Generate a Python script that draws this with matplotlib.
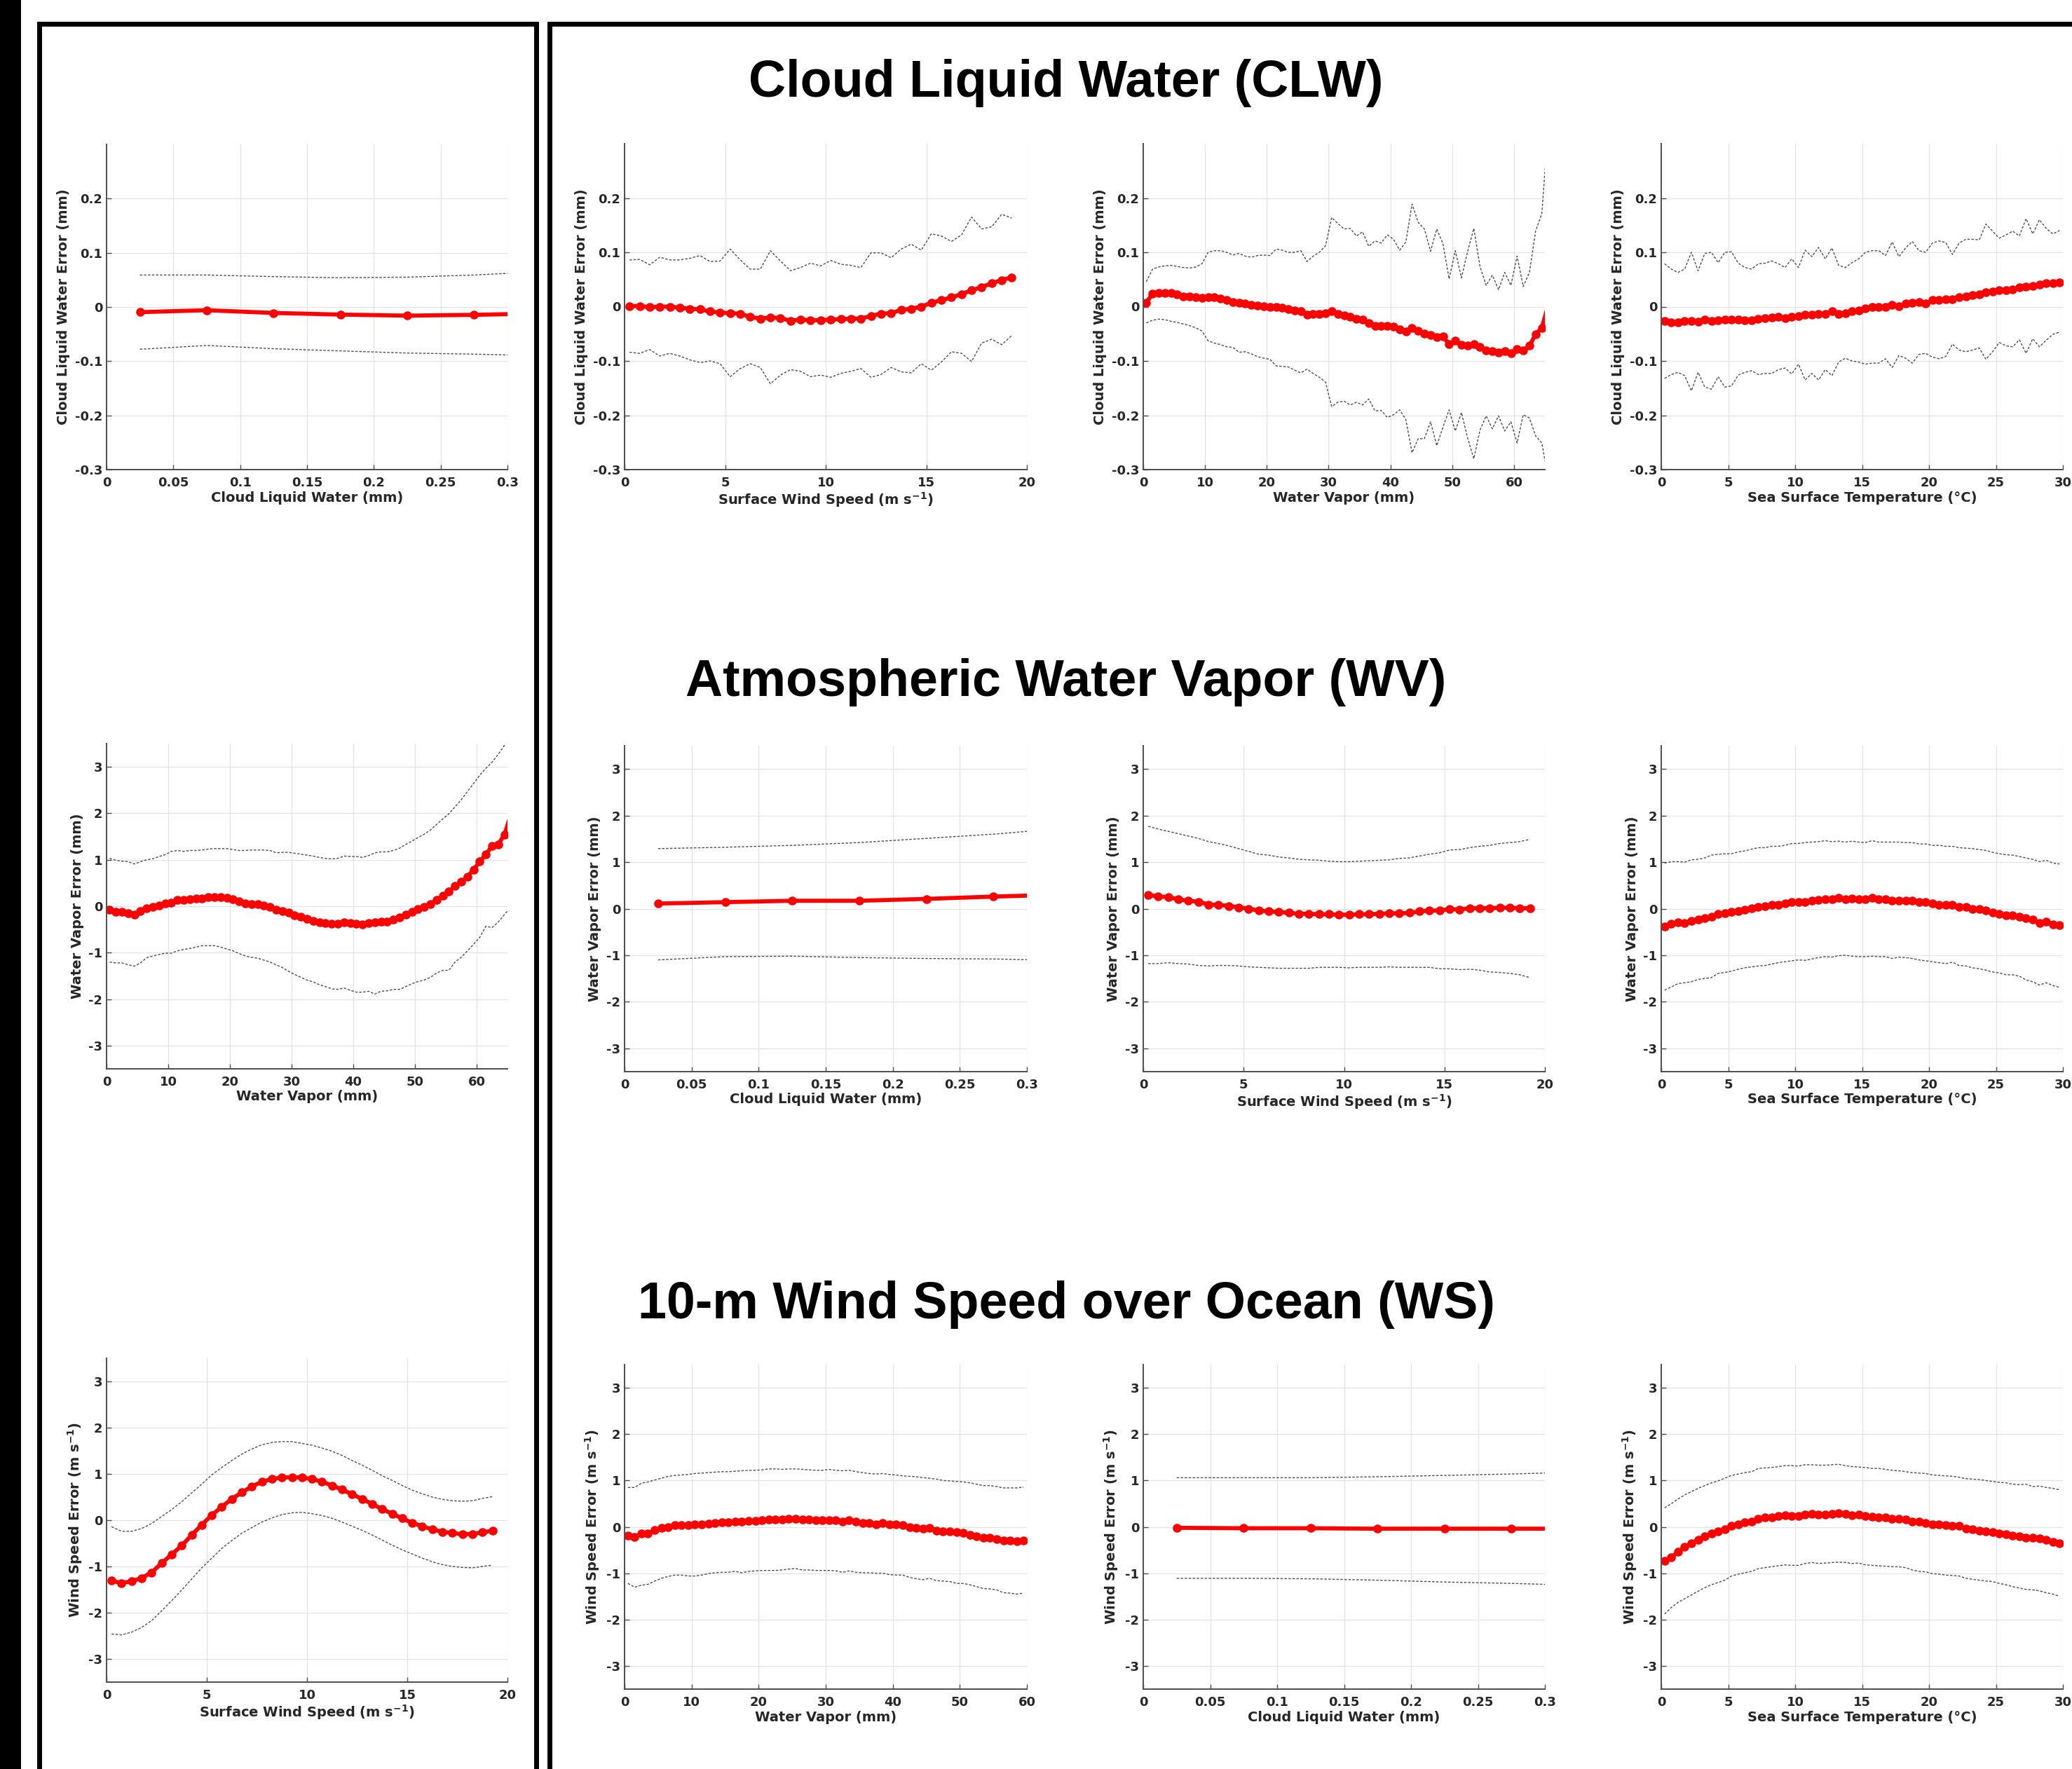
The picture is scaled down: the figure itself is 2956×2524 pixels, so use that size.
import numpy as np
import matplotlib
matplotlib.use('Agg')
import matplotlib.pyplot as plt
from matplotlib.patches import Rectangle
from matplotlib.ticker import FuncFormatter

# ---- bin centres -------------------------------------------------------
clw_bins = [0.025, 0.075, 0.125, 0.175, 0.225, 0.275, 0.325]
sws_bins = np.arange(0.25, 19.3, 0.5)      # 39 bins, 0.5 m/s
wv_bins = np.arange(0.5, 66.0, 1.0)        # 66 bins, 1 mm
wv_bins_60 = np.arange(0.5, 60.0, 1.0)     # 60 bins, 1 mm
sst_bins = np.arange(0.25, 30.0, 0.5)      # 60 bins, 0.5 C

# ---- CLW error ---------------------------------------------------------
clw_clw_mean = [-0.0095, -0.006, -0.011, -0.014, -0.016, -0.0145, -0.012]
clw_clw_up = [0.059, 0.059, 0.056, 0.054, 0.055, 0.059, 0.065]
clw_clw_lo = [-0.078, -0.071, -0.077, -0.081, -0.085, -0.087, -0.090]

clw_sws_mean = [0.001, 0.001, -0.001, 0.000, 0.000, -0.002, -0.004, -0.005, -0.009, -0.011,
                -0.012, -0.013, -0.019, -0.022, -0.020, -0.021, -0.026, -0.024, -0.025, -0.025,
                -0.024, -0.023, -0.022, -0.022, -0.017, -0.013, -0.012, -0.006, -0.004, 0.000,
                0.007, 0.012, 0.017, 0.023, 0.030, 0.036, 0.043, 0.049, 0.054]
clw_sws_up = [0.086, 0.087, 0.077, 0.091, 0.086, 0.086, 0.089, 0.094, 0.083, 0.084,
              0.106, 0.086, 0.069, 0.069, 0.103, 0.084, 0.066, 0.072, 0.080, 0.075,
              0.085, 0.078, 0.076, 0.072, 0.099, 0.099, 0.090, 0.106, 0.115, 0.104,
              0.134, 0.130, 0.120, 0.132, 0.165, 0.143, 0.147, 0.170, 0.163]
clw_sws_lo = [-0.084, -0.086, -0.079, -0.091, -0.086, -0.091, -0.098, -0.103, -0.100, -0.105,
              -0.129, -0.114, -0.105, -0.112, -0.142, -0.126, -0.116, -0.119, -0.129, -0.126,
              -0.130, -0.123, -0.119, -0.114, -0.130, -0.125, -0.112, -0.120, -0.122, -0.105,
              -0.117, -0.102, -0.083, -0.086, -0.101, -0.067, -0.060, -0.070, -0.053]

clw_wv_mean = [0.007, 0.024, 0.025, 0.025, 0.025, 0.022, 0.019, 0.019, 0.017, 0.016,
               0.018, 0.017, 0.015, 0.012, 0.009, 0.007, 0.006, 0.003, 0.002, 0.001,
               0.000, 0.000, -0.002, -0.004, -0.007, -0.009, -0.015, -0.014, -0.013, -0.012,
               -0.009, -0.013, -0.016, -0.019, -0.022, -0.024, -0.030, -0.035, -0.036, -0.035,
               -0.037, -0.042, -0.046, -0.039, -0.044, -0.050, -0.052, -0.056, -0.055, -0.069,
               -0.063, -0.070, -0.072, -0.069, -0.074, -0.081, -0.082, -0.085, -0.082, -0.086,
               -0.078, -0.081, -0.072, -0.051, -0.039, 0.001]
clw_wv_up = [0.046, 0.069, 0.073, 0.075, 0.076, 0.074, 0.072, 0.071, 0.073, 0.079,
             0.100, 0.103, 0.103, 0.100, 0.095, 0.098, 0.093, 0.091, 0.094, 0.095,
             0.094, 0.106, 0.104, 0.100, 0.100, 0.103, 0.083, 0.093, 0.100, 0.112,
             0.164, 0.153, 0.143, 0.144, 0.130, 0.138, 0.111, 0.121, 0.117, 0.132,
             0.124, 0.104, 0.119, 0.189, 0.155, 0.143, 0.102, 0.143, 0.116, 0.051,
             0.103, 0.053, 0.102, 0.144, 0.074, 0.039, 0.058, 0.031, 0.063, 0.039,
             0.093, 0.037, 0.063, 0.139, 0.171, 0.325]
clw_wv_lo = [-0.030, -0.025, -0.023, -0.024, -0.027, -0.029, -0.032, -0.035, -0.039, -0.045,
             -0.063, -0.067, -0.070, -0.074, -0.075, -0.084, -0.083, -0.087, -0.092, -0.095,
             -0.097, -0.109, -0.110, -0.111, -0.117, -0.122, -0.115, -0.123, -0.130, -0.139,
             -0.184, -0.176, -0.174, -0.181, -0.176, -0.181, -0.170, -0.192, -0.191, -0.204,
             -0.199, -0.190, -0.208, -0.269, -0.243, -0.243, -0.212, -0.256, -0.222, -0.190,
             -0.229, -0.195, -0.242, -0.280, -0.227, -0.201, -0.225, -0.201, -0.229, -0.212,
             -0.251, -0.199, -0.205, -0.238, -0.251, -0.313]

clw_sst_mean = [-0.027, -0.029, -0.029, -0.027, -0.026, -0.028, -0.024, -0.026, -0.025, -0.024,
                -0.024, -0.024, -0.025, -0.025, -0.023, -0.021, -0.020, -0.019, -0.021, -0.019,
                -0.018, -0.015, -0.015, -0.013, -0.013, -0.009, -0.013, -0.012, -0.009, -0.007,
                -0.003, -0.001, -0.001, 0.000, 0.003, 0.001, 0.006, 0.007, 0.008, 0.006,
                0.012, 0.012, 0.014, 0.014, 0.018, 0.019, 0.021, 0.023, 0.027, 0.028,
                0.030, 0.030, 0.032, 0.035, 0.037, 0.038, 0.041, 0.043, 0.043, 0.045]
clw_sst_up = [0.079, 0.069, 0.063, 0.069, 0.100, 0.066, 0.098, 0.100, 0.081, 0.100,
              0.101, 0.080, 0.072, 0.069, 0.079, 0.080, 0.084, 0.079, 0.072, 0.088,
              0.072, 0.104, 0.092, 0.109, 0.088, 0.108, 0.076, 0.072, 0.081, 0.088,
              0.100, 0.103, 0.103, 0.094, 0.119, 0.092, 0.108, 0.120, 0.103, 0.100,
              0.117, 0.121, 0.118, 0.096, 0.117, 0.124, 0.124, 0.123, 0.152, 0.139,
              0.126, 0.132, 0.139, 0.130, 0.162, 0.134, 0.160, 0.144, 0.134, 0.140]
clw_sst_lo = [-0.132, -0.125, -0.121, -0.127, -0.155, -0.121, -0.148, -0.152, -0.129, -0.148,
              -0.146, -0.126, -0.121, -0.118, -0.125, -0.123, -0.123, -0.116, -0.113, -0.124,
              -0.106, -0.135, -0.123, -0.135, -0.116, -0.127, -0.102, -0.095, -0.100, -0.102,
              -0.106, -0.104, -0.104, -0.096, -0.112, -0.090, -0.095, -0.104, -0.088, -0.086,
              -0.093, -0.096, -0.092, -0.069, -0.080, -0.083, -0.080, -0.076, -0.097, -0.083,
              -0.066, -0.072, -0.074, -0.061, -0.086, -0.059, -0.074, -0.062, -0.051, -0.047]

# ---- WV error ----------------------------------------------------------
wv_wv_mean = [-0.08, -0.12, -0.12, -0.15, -0.18, -0.11, -0.04, -0.02, 0.01, 0.06,
              0.08, 0.13, 0.13, 0.15, 0.16, 0.17, 0.19, 0.20, 0.19, 0.18,
              0.15, 0.10, 0.06, 0.05, 0.04, 0.01, -0.02, -0.07, -0.11, -0.14,
              -0.20, -0.22, -0.27, -0.31, -0.34, -0.36, -0.37, -0.38, -0.34, -0.36,
              -0.38, -0.39, -0.36, -0.34, -0.33, -0.33, -0.28, -0.24, -0.18, -0.12,
              -0.06, -0.02, 0.04, 0.14, 0.22, 0.31, 0.44, 0.53, 0.63, 0.79,
              0.96, 1.11, 1.30, 1.33, 1.54, 1.95]
wv_wv_up = [1.03, 0.99, 0.97, 0.96, 0.91, 0.96, 1.00, 1.02, 1.07, 1.11,
            1.18, 1.20, 1.18, 1.20, 1.20, 1.21, 1.23, 1.24, 1.24, 1.24,
            1.22, 1.20, 1.20, 1.21, 1.21, 1.21, 1.20, 1.15, 1.16, 1.16,
            1.14, 1.12, 1.10, 1.08, 1.05, 1.03, 1.02, 1.03, 1.08, 1.07,
            1.07, 1.05, 1.09, 1.15, 1.17, 1.17, 1.20, 1.25, 1.33, 1.40,
            1.48, 1.55, 1.64, 1.76, 1.88, 1.99, 2.14, 2.29, 2.47, 2.64,
            2.82, 2.97, 3.10, 3.27, 3.46, 3.70]
wv_wv_lo = [-1.20, -1.22, -1.22, -1.26, -1.29, -1.22, -1.11, -1.07, -1.04, -1.01,
            -1.01, -0.96, -0.93, -0.91, -0.88, -0.85, -0.85, -0.85, -0.88, -0.92,
            -0.96, -1.02, -1.07, -1.10, -1.12, -1.16, -1.20, -1.26, -1.32, -1.40,
            -1.47, -1.53, -1.59, -1.63, -1.69, -1.73, -1.78, -1.79, -1.76, -1.81,
            -1.85, -1.85, -1.83, -1.89, -1.83, -1.82, -1.79, -1.79, -1.73, -1.67,
            -1.62, -1.59, -1.53, -1.44, -1.38, -1.38, -1.20, -1.10, -0.96, -0.82,
            -0.67, -0.43, -0.46, -0.34, -0.18, -0.02]

wv_clw_mean = [0.11, 0.14, 0.17, 0.17, 0.21, 0.26, 0.30]
wv_clw_up = [1.29, 1.32, 1.36, 1.42, 1.51, 1.60, 1.72]
wv_clw_lo = [-1.10, -1.03, -1.02, -1.05, -1.07, -1.08, -1.11]

wv_sws_mean = [0.30, 0.26, 0.25, 0.20, 0.17, 0.15, 0.09, 0.08, 0.06, 0.03,
               0.00, -0.04, -0.06, -0.07, -0.09, -0.11, -0.11, -0.12, -0.12, -0.13,
               -0.13, -0.12, -0.12, -0.11, -0.10, -0.10, -0.09, -0.06, -0.04, -0.04,
               -0.01, -0.02, 0.01, 0.01, 0.01, 0.02, 0.02, 0.01, 0.01]
wv_sws_up = [1.77, 1.71, 1.66, 1.61, 1.56, 1.51, 1.44, 1.40, 1.35, 1.29,
             1.23, 1.17, 1.15, 1.11, 1.09, 1.06, 1.05, 1.04, 1.02, 1.01,
             1.01, 1.02, 1.03, 1.04, 1.05, 1.08, 1.09, 1.13, 1.17, 1.20,
             1.26, 1.27, 1.31, 1.34, 1.36, 1.40, 1.42, 1.44, 1.49]
wv_sws_lo = [-1.18, -1.18, -1.16, -1.18, -1.19, -1.22, -1.23, -1.22, -1.22, -1.23,
             -1.25, -1.26, -1.27, -1.28, -1.28, -1.28, -1.28, -1.26, -1.26, -1.26,
             -1.27, -1.26, -1.26, -1.26, -1.25, -1.26, -1.26, -1.26, -1.26, -1.29,
             -1.29, -1.31, -1.30, -1.32, -1.36, -1.37, -1.39, -1.42, -1.48]

wv_sst_mean = [-0.38, -0.33, -0.30, -0.31, -0.26, -0.23, -0.21, -0.18, -0.12, -0.10,
               -0.07, -0.05, -0.02, 0.01, 0.04, 0.05, 0.08, 0.09, 0.12, 0.14,
               0.15, 0.15, 0.17, 0.19, 0.21, 0.20, 0.23, 0.21, 0.22, 0.21,
               0.20, 0.23, 0.20, 0.20, 0.17, 0.18, 0.17, 0.18, 0.15, 0.14,
               0.11, 0.09, 0.08, 0.09, 0.04, 0.04, 0.00, -0.01, -0.04, -0.08,
               -0.11, -0.14, -0.14, -0.17, -0.21, -0.24, -0.31, -0.28, -0.34, -0.36]
wv_sst_up = [0.98, 1.01, 1.01, 1.00, 1.05, 1.06, 1.09, 1.15, 1.17, 1.18,
             1.18, 1.22, 1.24, 1.28, 1.31, 1.31, 1.34, 1.34, 1.36, 1.40,
             1.40, 1.42, 1.43, 1.44, 1.46, 1.44, 1.45, 1.43, 1.45, 1.43,
             1.42, 1.46, 1.43, 1.43, 1.43, 1.43, 1.42, 1.42, 1.39, 1.39,
             1.36, 1.36, 1.34, 1.34, 1.31, 1.30, 1.29, 1.27, 1.25, 1.21,
             1.18, 1.16, 1.15, 1.12, 1.09, 1.06, 1.01, 1.04, 0.98, 0.96]
wv_sst_lo = [-1.75, -1.68, -1.61, -1.59, -1.57, -1.52, -1.50, -1.48, -1.39, -1.37,
             -1.34, -1.30, -1.27, -1.25, -1.23, -1.22, -1.19, -1.16, -1.14, -1.12,
             -1.10, -1.11, -1.08, -1.05, -1.03, -1.04, -1.01, -1.00, -1.02, -1.03,
             -1.03, -1.02, -1.03, -1.03, -1.07, -1.04, -1.05, -1.07, -1.10, -1.12,
             -1.14, -1.16, -1.18, -1.15, -1.22, -1.23, -1.27, -1.29, -1.32, -1.36,
             -1.38, -1.42, -1.42, -1.45, -1.53, -1.57, -1.64, -1.59, -1.65, -1.69]

# ---- WS error ----------------------------------------------------------
ws_sws_mean = [-1.31, -1.36, -1.32, -1.25, -1.13, -0.93, -0.74, -0.55, -0.32, -0.10,
               0.11, 0.29, 0.46, 0.60, 0.73, 0.83, 0.89, 0.92, 0.93, 0.92,
               0.89, 0.83, 0.75, 0.66, 0.56, 0.46, 0.35, 0.24, 0.14, 0.04,
               -0.06, -0.13, -0.20, -0.25, -0.28, -0.30, -0.30, -0.26, -0.23]
ws_sws_up = [-0.14, -0.24, -0.24, -0.18, -0.07, 0.08, 0.23, 0.40, 0.59, 0.78,
             0.98, 1.14, 1.29, 1.43, 1.54, 1.63, 1.68, 1.70, 1.70, 1.66,
             1.62, 1.56, 1.49, 1.40, 1.29, 1.19, 1.08, 0.96, 0.86, 0.75,
             0.65, 0.57, 0.50, 0.45, 0.42, 0.41, 0.42, 0.47, 0.51]
ws_sws_lo = [-2.46, -2.48, -2.42, -2.32, -2.17, -1.96, -1.74, -1.51, -1.27, -1.03,
             -0.82, -0.61, -0.44, -0.28, -0.16, -0.04, 0.05, 0.12, 0.16, 0.17,
             0.14, 0.10, 0.04, -0.04, -0.13, -0.22, -0.32, -0.43, -0.54, -0.64,
             -0.73, -0.82, -0.90, -0.96, -1.00, -1.02, -1.03, -1.00, -0.97]

ws_wv_mean = [-0.19, -0.22, -0.15, -0.15, -0.07, -0.03, 0.00, 0.04, 0.04, 0.04,
              0.05, 0.06, 0.07, 0.09, 0.10, 0.10, 0.12, 0.12, 0.13, 0.13,
              0.14, 0.16, 0.16, 0.16, 0.17, 0.18, 0.16, 0.16, 0.14, 0.14,
              0.14, 0.14, 0.12, 0.14, 0.11, 0.09, 0.08, 0.06, 0.08, 0.05,
              0.05, 0.04, -0.01, -0.03, -0.04, -0.03, -0.08, -0.10, -0.10, -0.12,
              -0.13, -0.17, -0.20, -0.23, -0.23, -0.26, -0.29, -0.30, -0.31, -0.29]
ws_wv_up = [0.85, 0.85, 0.94, 0.97, 1.01, 1.05, 1.09, 1.11, 1.12, 1.13,
            1.15, 1.16, 1.17, 1.18, 1.19, 1.19, 1.20, 1.21, 1.22, 1.22,
            1.23, 1.25, 1.25, 1.24, 1.25, 1.25, 1.24, 1.23, 1.22, 1.22,
            1.24, 1.22, 1.21, 1.22, 1.19, 1.17, 1.15, 1.14, 1.15, 1.13,
            1.12, 1.10, 1.09, 1.08, 1.06, 1.05, 1.03, 1.00, 0.99, 0.98,
            0.97, 0.95, 0.92, 0.89, 0.89, 0.87, 0.84, 0.84, 0.84, 0.86]
ws_wv_lo = [-1.22, -1.30, -1.26, -1.24, -1.17, -1.11, -1.07, -1.04, -1.04, -1.06,
            -1.06, -1.04, -1.01, -0.99, -0.98, -0.98, -0.96, -0.99, -0.96, -0.95,
            -0.94, -0.94, -0.94, -0.93, -0.91, -0.90, -0.93, -0.93, -0.94, -0.94,
            -0.94, -0.95, -0.98, -0.95, -0.98, -0.99, -0.99, -1.00, -1.00, -1.03,
            -1.04, -1.04, -1.09, -1.12, -1.14, -1.11, -1.16, -1.17, -1.18, -1.22,
            -1.22, -1.25, -1.29, -1.33, -1.34, -1.36, -1.42, -1.43, -1.45, -1.43]

ws_clw_mean = [-0.02, -0.03, -0.03, -0.04, -0.04, -0.04, -0.04]
ws_clw_up = [1.06, 1.06, 1.06, 1.08, 1.11, 1.14, 1.18]
ws_clw_lo = [-1.11, -1.11, -1.12, -1.15, -1.19, -1.22, -1.26]

ws_sst_mean = [-0.74, -0.66, -0.54, -0.43, -0.36, -0.28, -0.20, -0.14, -0.10, -0.05,
               0.03, 0.06, 0.10, 0.11, 0.18, 0.20, 0.21, 0.23, 0.25, 0.24,
               0.24, 0.26, 0.28, 0.26, 0.27, 0.28, 0.29, 0.28, 0.25, 0.26,
               0.23, 0.22, 0.21, 0.20, 0.18, 0.18, 0.16, 0.12, 0.11, 0.09,
               0.06, 0.05, 0.04, 0.03, 0.02, -0.04, -0.05, -0.08, -0.10, -0.12,
               -0.14, -0.16, -0.19, -0.21, -0.23, -0.24, -0.25, -0.28, -0.32, -0.35]
ws_sst_up = [0.41, 0.50, 0.60, 0.69, 0.76, 0.83, 0.89, 0.95, 0.99, 1.05,
             1.11, 1.14, 1.17, 1.19, 1.26, 1.27, 1.28, 1.30, 1.32, 1.32,
             1.31, 1.34, 1.34, 1.33, 1.33, 1.34, 1.35, 1.32, 1.30, 1.29,
             1.28, 1.26, 1.26, 1.24, 1.22, 1.21, 1.19, 1.17, 1.16, 1.15,
             1.12, 1.11, 1.10, 1.09, 1.07, 1.04, 1.03, 1.02, 1.00, 0.98,
             0.96, 0.95, 0.92, 0.91, 0.92, 0.87, 0.88, 0.85, 0.83, 0.80]
ws_sst_lo = [-1.88, -1.74, -1.63, -1.55, -1.47, -1.39, -1.31, -1.25, -1.20, -1.15,
             -1.06, -1.02, -0.99, -0.96, -0.90, -0.88, -0.86, -0.84, -0.82, -0.83,
             -0.83, -0.79, -0.77, -0.79, -0.78, -0.77, -0.76, -0.77, -0.79, -0.78,
             -0.82, -0.83, -0.84, -0.85, -0.86, -0.86, -0.88, -0.93, -0.96, -0.97,
             -1.01, -1.02, -1.04, -1.05, -1.06, -1.11, -1.13, -1.15, -1.17, -1.18,
             -1.22, -1.25, -1.29, -1.32, -1.35, -1.36, -1.38, -1.42, -1.45, -1.50]

# ---- labels / ticks ----------------------------------------------------
row_titles = ['Cloud Liquid Water (CLW)', 'Atmospheric Water Vapor (WV)',
              '10-m Wind Speed over Ocean (WS)']
row_ylabels = ['Cloud Liquid Water Error (mm)', 'Water Vapor Error (mm)',
               r'Wind Speed Error (m s$^{-1}$)']
clw_ticks = [0, 0.05, 0.1, 0.15, 0.2, 0.25, 0.3]
sws_ticks = [0, 5, 10, 15, 20]
wv_ticks = [0, 10, 20, 30, 40, 50, 60]
sst_ticks = [0, 5, 10, 15, 20, 25, 30]
clw_err_ticks = [-0.3, -0.2, -0.1, 0, 0.1, 0.2]
err_ticks = [-3, -2, -1, 0, 1, 2, 3]

X_CLW = ('Cloud Liquid Water (mm)', (0, 0.3), clw_ticks)
X_SWS = (r'Surface Wind Speed (m s$^{-1}$)', (0, 20), sws_ticks)
X_WV = ('Water Vapor (mm)', (0, 65), wv_ticks)
X_WV60 = ('Water Vapor (mm)', (0, 60), wv_ticks)
X_SST = ('Sea Surface Temperature (°C)', (0, 30), sst_ticks)

W, H = 2956, 2524
DPI = 100

plt.rcParams['font.family'] = 'DejaVu Sans'
plt.rcParams['font.weight'] = 'bold'
plt.rcParams['axes.labelweight'] = 'bold'
plt.rcParams['axes.unicode_minus'] = False
plt.rcParams['mathtext.default'] = 'bf'

TXT = '#262626'


def px_axes(fig, left, top, right, bottom):
    return fig.add_axes([left / W, 1 - bottom / H, (right - left) / W, (bottom - top) / H])


def draw_panel(ax, x, mean, up, lo, xspec, ylim, yticks, ylabel):
    xlabel, xlim, xticks = xspec
    dots = dict(color='0.3', lw=1.0, ls=(0, (2.5, 1.6)))
    ax.plot(x, up, **dots)
    ax.plot(x, lo, **dots)
    # markers only for bins inside the axis range (last bin runs off the edge)
    shown = [i for i, xv in enumerate(x) if xv <= xlim[1]]
    ax.plot(x, mean, color='red', lw=4.2, marker='o', ms=8, mfc='red', mec='red',
            markevery=shown)
    ax.set_xlim(xlim)
    ax.set_ylim(ylim)
    ax.set_xticks(xticks)
    ax.set_yticks(yticks)
    fmt = FuncFormatter(lambda v, p: '%g' % v)
    ax.xaxis.set_major_formatter(fmt)
    ax.yaxis.set_major_formatter(fmt)
    ax.grid(True, color='#e2e2e2', lw=0.9)
    ax.set_axisbelow(True)
    for s in ['top', 'right']:
        ax.spines[s].set_visible(False)
    for s in ['left', 'bottom']:
        ax.spines[s].set_color('0.3')
        ax.spines[s].set_linewidth(1.4)
    ax.tick_params(direction='in', length=5, width=1, color='0.3',
                   labelsize=13, labelcolor=TXT)
    ax.tick_params(axis='x', pad=7)
    ax.tick_params(axis='y', pad=4)
    ax.set_xlabel(xlabel, fontsize=14, color=TXT, fontweight='bold', labelpad=2)
    ax.set_ylabel(ylabel, fontsize=14, color=TXT, fontweight='bold', labelpad=5)


fig = plt.figure(figsize=(W / DPI, H / DPI), dpi=DPI)

# frames
fig.add_artist(Rectangle((0, 0), 30 / W, 1, transform=fig.transFigure,
                         facecolor='black', edgecolor='none'))
for x0, x1 in [(55.5, 764.5), (784, W + 60)]:
    fig.add_artist(Rectangle((x0 / W, -0.05), (x1 - x0) / W, 1.05 - 33.5 / H,
                             transform=fig.transFigure, fill=False,
                             edgecolor='black', lw=5.0, joinstyle='miter'))

cols = [(152, 724), (891, 1465), (1631, 2204), (2370, 2943)]
rows_left = [(206, 670), (1061, 1525), (1938, 2400)]
rows_right = [(205, 670), (1064, 1529), (1947, 2410)]

panels = [
    # row 0: CLW error
    [(clw_bins, clw_clw_mean, clw_clw_up, clw_clw_lo, X_CLW),
     (sws_bins, clw_sws_mean, clw_sws_up, clw_sws_lo, X_SWS),
     (wv_bins, clw_wv_mean, clw_wv_up, clw_wv_lo, X_WV),
     (sst_bins, clw_sst_mean, clw_sst_up, clw_sst_lo, X_SST)],
    # row 1: WV error
    [(wv_bins, wv_wv_mean, wv_wv_up, wv_wv_lo, X_WV),
     (clw_bins, wv_clw_mean, wv_clw_up, wv_clw_lo, X_CLW),
     (sws_bins, wv_sws_mean, wv_sws_up, wv_sws_lo, X_SWS),
     (sst_bins, wv_sst_mean, wv_sst_up, wv_sst_lo, X_SST)],
    # row 2: WS error
    [(sws_bins, ws_sws_mean, ws_sws_up, ws_sws_lo, X_SWS),
     (wv_bins_60, ws_wv_mean, ws_wv_up, ws_wv_lo, X_WV60),
     (clw_bins, ws_clw_mean, ws_clw_up, ws_clw_lo, X_CLW),
     (sst_bins, ws_sst_mean, ws_sst_up, ws_sst_lo, X_SST)],
]

for r, row in enumerate(panels):
    if r == 0:
        ylim, yticks = (-0.3, 0.3), clw_err_ticks
    else:
        ylim, yticks = (-3.5, 3.5), err_ticks
    for c, (x, mean, up, lo, xspec) in enumerate(row):
        top, bot = rows_left[r] if c == 0 else rows_right[r]
        ax = px_axes(fig, cols[c][0], top, cols[c][1], bot)
        draw_panel(ax, x, mean, up, lo, xspec, ylim, yticks, row_ylabels[r])

for title, base in zip(row_titles, [138, 993, 1881]):
    fig.text(1521 / W, 1 - base / H, title, ha='center', va='baseline',
             fontsize=53, fontweight='bold', family='Liberation Sans', color='black')

fig.savefig('out.png', dpi=DPI)
